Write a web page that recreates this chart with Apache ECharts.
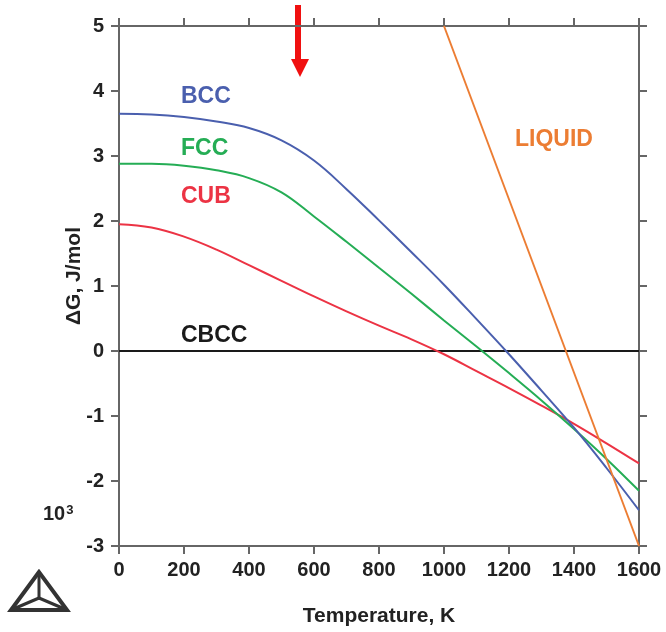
<!DOCTYPE html>
<html>
<head>
    <meta charset="utf-8">
    <title>Delta G vs temperature</title>
    <script src="https://cdn.jsdelivr.net/npm/echarts@6/dist/echarts.min.js"></script>
</head>
<body style="margin:0;background:#fff;">
    <div id="main" style="width:666px;height:632px;"></div>
    <script type="text/javascript">
        // data (dG in 10^3 J/mol)
        var temps = [0, 100, 200, 300, 400, 500, 600, 700, 800, 900, 1000, 1100, 1200, 1300, 1400, 1500, 1600];
        var bcc = [3.65, 3.64, 3.60, 3.53, 3.43, 3.24, 2.93, 2.49, 2.01, 1.52, 1.02, 0.49, -0.05, -0.61, -1.18, -1.8, -2.45];
        var fcc = [2.88, 2.88, 2.85, 2.78, 2.66, 2.44, 2.07, 1.68, 1.28, 0.88, 0.47, 0.07, -0.34, -0.76, -1.2, -1.66, -2.15];
        var cub = [1.95, 1.9, 1.76, 1.56, 1.32, 1.08, 0.84, 0.61, 0.39, 0.18, -0.05, -0.31, -0.57, -0.84, -1.12, -1.42, -1.73];
        var liquidT = [1000, 1600];
        var liquid = [5, -3];
        var cbccT = [0, 1600];
        var cbcc = [0, 0];

        var colors = {
            bcc: '#4a5fae',
            fcc: '#25ad55',
            cub: '#ec3344',
            liquid: '#ec7d33',
            cbcc: '#1a1a1a'
        };

        function pairs(xs, ys) {
            var out = [];
            for (var i = 0; i < xs.length; i++) out.push([xs[i], ys[i]]);
            return out;
        }

        var font = 'Liberation Sans, Arial, sans-serif';
        var axisColor = '#666';

        function frameAxis(pos, isX, show) {
            return {
                type: 'value',
                position: pos,
                min: isX ? 0 : -3,
                max: isX ? 1600 : 5,
                interval: isX ? 200 : 1,
                splitLine: { show: false },
                axisLine: { show: true, onZero: false, lineStyle: { color: axisColor, width: 2 } },
                axisTick: { show: true, length: 8, lineStyle: { color: axisColor, width: 2 } },
                axisLabel: {
                    show: show,
                    color: '#222',
                    fontFamily: font,
                    fontWeight: 'bold',
                    fontSize: 20,
                    margin: isX ? 14 : 15,
                    formatter: function (v) { return String(v); }
                }
            };
        }

        var xBottom = frameAxis('bottom', true, true);
        xBottom.name = 'Temperature, K';
        xBottom.nameLocation = 'middle';
        xBottom.nameGap = 60;
        xBottom.nameMoveOverlap = false;
        xBottom.nameTextStyle = { color: '#222', fontFamily: font, fontWeight: 'bold', fontSize: 21 };

        var yLeft = frameAxis('left', false, true);
        yLeft.name = 'ΔG, J/mol';
        yLeft.nameLocation = 'middle';
        yLeft.nameGap = 34;
        yLeft.nameMoveOverlap = false;
        yLeft.nameTextStyle = { color: '#222', fontFamily: font, fontWeight: 'bold', fontSize: 21, padding: [0, 0, 0, 20] };

        var labelStyle = function (txt, x, y, color) {
            return {
                type: 'text',
                left: x,
                top: y,
                style: {
                    text: txt,
                    fill: color,
                    font: 'bold 23px ' + font
                }
            };
        };

        var dom = document.getElementById('main');
        var myChart = echarts.init(dom);

        var option = {
            backgroundColor: '#fff',
            animation: false,
            grid: { left: 119, right: 27, top: 26, bottom: 86 },
            xAxis: [xBottom, frameAxis('top', true, false)],
            yAxis: [yLeft, frameAxis('right', false, false)],
            series: [
                {
                    name: 'CBCC', type: 'line', showSymbol: false,
                    data: pairs(cbccT, cbcc),
                    lineStyle: { color: colors.cbcc, width: 2 }
                },
                {
                    name: 'CUB', type: 'line', showSymbol: false, smooth: 0.4,
                    data: pairs(temps, cub),
                    lineStyle: { color: colors.cub, width: 2 }
                },
                {
                    name: 'FCC', type: 'line', showSymbol: false, smooth: 0.4,
                    data: pairs(temps, fcc),
                    lineStyle: { color: colors.fcc, width: 2 }
                },
                {
                    name: 'BCC', type: 'line', showSymbol: false, smooth: 0.4,
                    data: pairs(temps, bcc),
                    lineStyle: { color: colors.bcc, width: 2 }
                },
                {
                    name: 'LIQUID', type: 'line', showSymbol: false,
                    data: pairs(liquidT, liquid),
                    lineStyle: { color: colors.liquid, width: 2 }
                }
            ],
            graphic: [
                labelStyle('BCC', 181, 85, colors.bcc),
                labelStyle('FCC', 181, 137, colors.fcc),
                labelStyle('CUB', 181, 185, colors.cub),
                labelStyle('CBCC', 181, 324, colors.cbcc),
                labelStyle('LIQUID', 515, 128, colors.liquid),
                {
                    type: 'text', left: 43, top: 504,
                    style: {
                        text: '10{s|3}',
                        fill: '#222',
                        font: 'bold 20px ' + font,
                        rich: { s: { fontSize: 13, fontWeight: 'bold', fontFamily: font, verticalAlign: 'top', padding: [0, 0, 8, 1] } }
                    }
                },
                // red arrow on top
                {
                    type: 'polygon',
                    shape: { points: [[295, 5], [301, 5], [301, 59], [309, 59], [300, 77], [291, 59], [295, 59]] },
                    style: { fill: '#f01010' }
                },
                // logo
                {
                    type: 'polygon',
                    shape: { points: [[39, 572], [11, 610], [67, 610]] },
                    style: { fill: 'none', stroke: '#333', lineWidth: 4 }
                },
                {
                    type: 'polyline',
                    shape: { points: [[39, 572], [39, 598]] },
                    style: { stroke: '#333', lineWidth: 3 }
                },
                {
                    type: 'polyline',
                    shape: { points: [[11, 610], [39, 598], [67, 610]] },
                    style: { fill: 'none', stroke: '#333', lineWidth: 3 }
                }
            ]
        };

        myChart.setOption(option);
    </script>
</body>
</html>
